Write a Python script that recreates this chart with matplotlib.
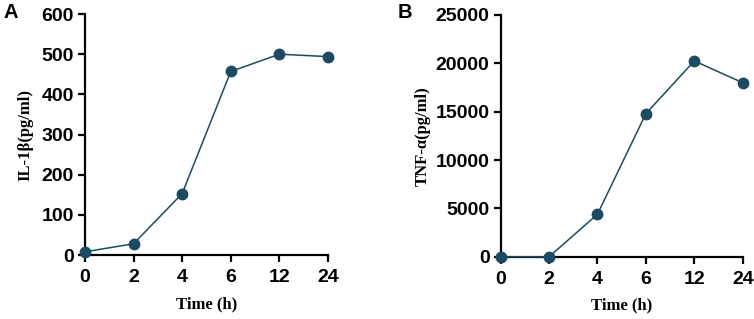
import matplotlib
matplotlib.use("Agg")
import matplotlib.pyplot as plt

time_labels = ["0", "2", "4", "6", "12", "24"]
il1b = [8, 28, 153, 457, 500, 494]
tnfa = [0, 0, 4400, 14800, 20250, 18000]
il1b_ticks = [0, 100, 200, 300, 400, 500, 600]
tnfa_ticks = [0, 5000, 10000, 15000, 20000, 25000]

color = "#1d4a63"
fig = plt.figure(figsize=(7.54, 3.19), dpi=100)

def panel(rect, vals, yticks, ylabel, letter, letter_x, ylab_x, xlab_y):
    ax = fig.add_axes(rect)
    x = list(range(len(time_labels)))
    ax.plot(x, vals, color=color, lw=1.1, marker="o", ms=7.5, clip_on=False, zorder=5)
    ax.set_xlim(0, len(time_labels) - 1)
    ax.set_ylim(yticks[0], yticks[-1])
    ax.set_xticks(x)
    ax.set_xticklabels(time_labels)
    ax.set_yticks(yticks)
    for s in ["top", "right"]:
        ax.spines[s].set_visible(False)
    for s in ["left", "bottom"]:
        ax.spines[s].set_linewidth(1.6)
    ax.tick_params(width=1.6, length=5, labelsize=14, pad=3)
    ax.tick_params(axis="x", pad=5)
    for lab in ax.get_xticklabels() + ax.get_yticklabels():
        lab.set_fontfamily("Liberation Sans")
        lab.set_fontweight("bold")
    ax.set_xlabel("Time (h)", fontfamily="Liberation Serif", fontweight="bold", fontsize=12)
    ax.set_ylabel(ylabel, fontfamily="Liberation Serif", fontweight="bold", fontsize=12)
    ax.yaxis.set_label_coords(ylab_x, 0.5)
    ax.xaxis.set_label_coords(0.5, xlab_y)
    ax.xaxis.label.set_va("center")
    ax.yaxis.label.set_va("center")
    fig.text(letter_x, 0.96, letter, fontfamily="Liberation Sans", fontweight="bold", fontsize=14.5, va="center")
    return ax

panel([0.1127, 0.2006, 0.3223, 0.7554], il1b, il1b_ticks, "IL-1β(pg/ml)", "A", 0.005, -0.247, -0.207)
panel([0.664, 0.195, 0.321, 0.758], tnfa, tnfa_ticks, "TNF-α(pg/ml)", "B", 0.527, -0.321, -0.2)

fig.savefig("out.png", dpi=100)
